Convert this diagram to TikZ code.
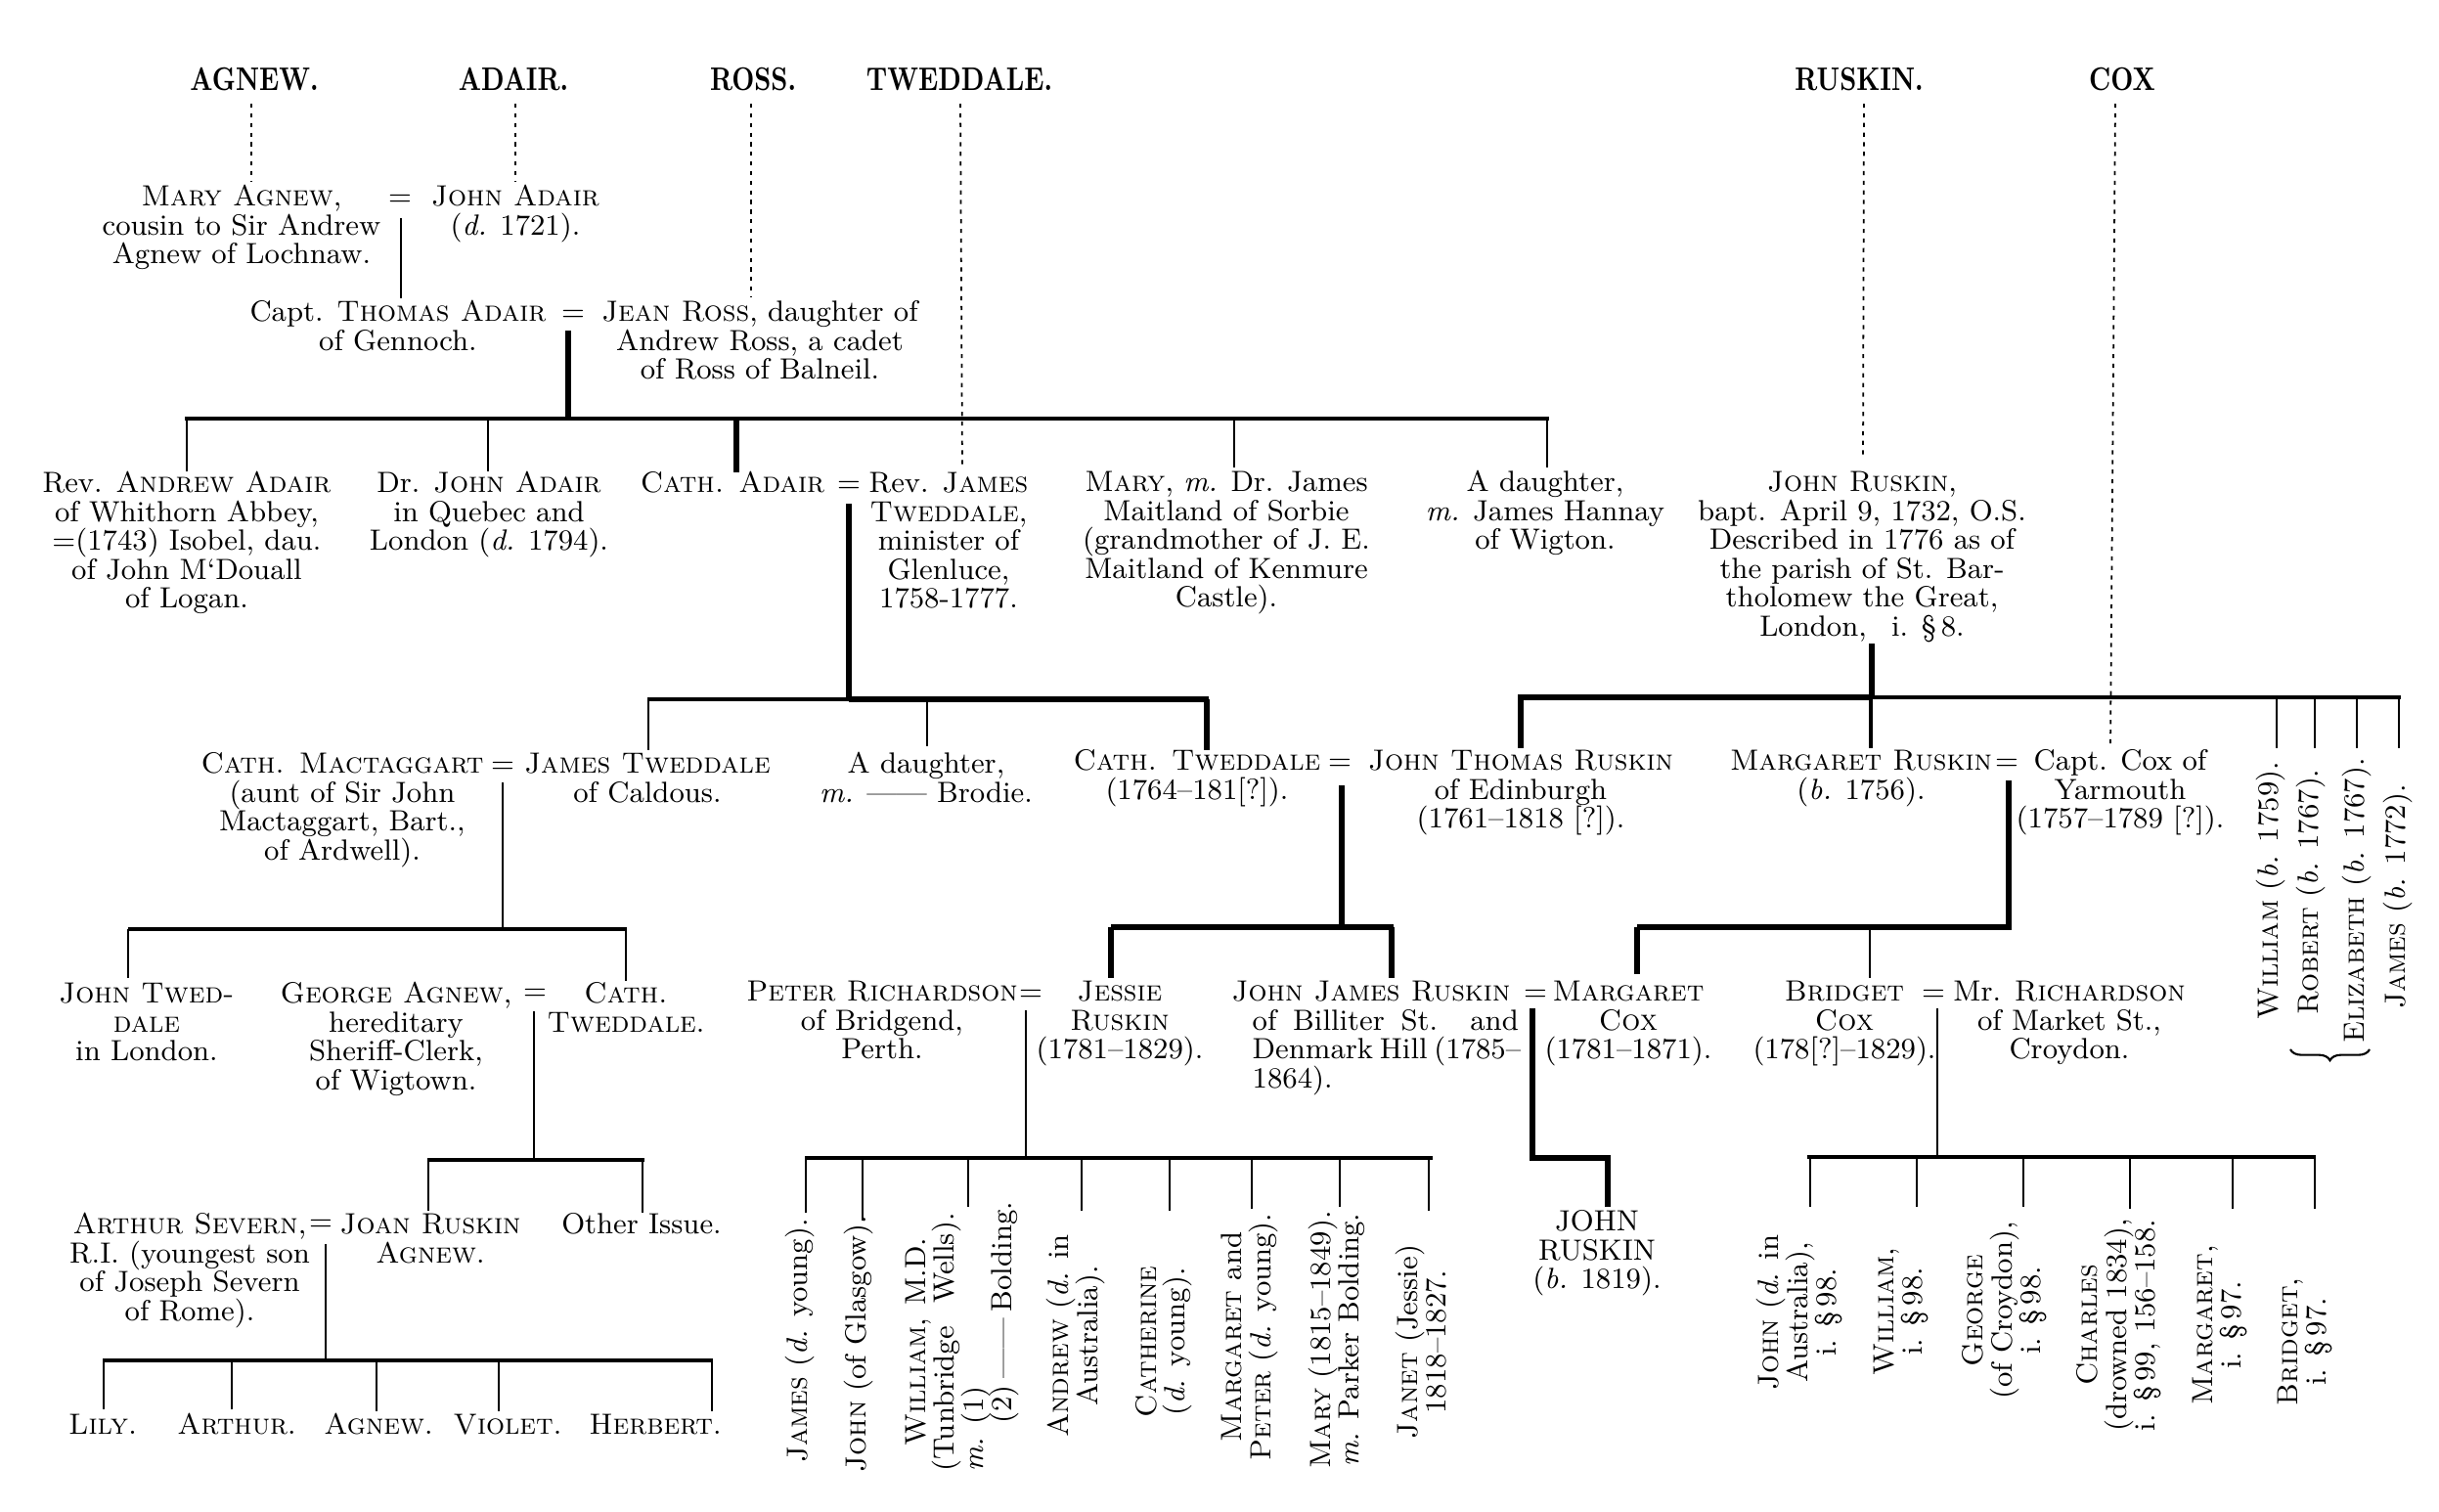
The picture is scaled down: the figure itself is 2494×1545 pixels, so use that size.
\documentclass[tikz,border=0pt]{standalone}
\usepackage{graphicx}
\usetikzlibrary{decorations.pathreplacing}
\newcommand\fstrut{\rule{0pt}{6.6pt}}
\newcommand\bodyfont{\fontsize{8.5}{8.4}\selectfont\lineskiplimit=-20pt\lineskip=0pt}
\newcommand\hdtxt[1]{\scalebox{0.8}[1]{\bfseries\fontsize{9.5}{10}\selectfont #1}}
\begin{document}
\begin{tikzpicture}[x=0.01cm,y=-0.01cm,
  tx/.style={align=center,anchor=north,inner sep=0pt,yshift=6.6pt,font=\bodyfont},
  txl/.style={align=left,anchor=north west,inner sep=0pt,yshift=6.6pt,font=\bodyfont},
  one/.style={anchor=base,inner sep=0pt,font=\bodyfont},
  hd/.style={anchor=base,inner sep=0pt},
  rot/.style={rotate=90,anchor=center,inner sep=0pt,align=center,font=\bodyfont},
  rotl/.style={rotate=90,anchor=center,inner sep=0pt,align=left,font=\bodyfont},
  lna/.style={line width=0.6pt},
  lnb/.style={line width=1.0pt},
  lnc/.style={line width=1.6pt},
  dotln/.style={line width=0.5pt,dash pattern=on 1.2pt off 1.6pt}]
\useasboundingbox (0,0) rectangle (2494,1545);

% ---------- family headers ----------
\node[hd] (hAgnew)  at (260,92)  {\hdtxt{AGNEW.}};
\node[hd] (hAdair)  at (525,92)  {\hdtxt{ADAIR.}};
\node[hd] (hRoss)   at (770,92)  {\hdtxt{ROSS.}};
\node[hd] (hTwed)   at (981,92)  {\hdtxt{TWEDDALE.}};
\node[hd] (hRuskin) at (1901,92) {\hdtxt{RUSKIN.}};
\node[hd] (hCox)    at (2170,92) {\hdtxt{COX}};

\coordinate (dA1) at (257,106);  \coordinate (dA2) at (257,186);
\coordinate (dB1) at (527,106);  \coordinate (dB2) at (527,186);
\coordinate (dC1) at (768,106);  \coordinate (dC2) at (768,304);
\coordinate (dD1) at (982,106);  \coordinate (dD2) at (984,480);
\coordinate (dE1) at (1906,106); \coordinate (dE2) at (1905,470);
\coordinate (dF1) at (2163,106); \coordinate (dF2) at (2158,762);
\draw[dotln] (dA1) -- (dA2);
\draw[dotln] (dB1) -- (dB2);
\draw[dotln] (dC1) -- (dC2);
\draw[dotln] (dD1) -- (dD2);
\draw[dotln] (dE1) -- (dE2);
\draw[dotln] (dF1) -- (dF2);

% ---------- generation 1 ----------
\node[tx] (maryA) at (247,210) {\fstrut\textsc{Mary Agnew},\\cousin to Sir Andrew\\Agnew of Lochnaw.};
\node[one] (eq1) at (409,210) {=};
\node[tx] (johnA) at (527,210) {\fstrut\textsc{John Adair}\\(\textit{d.} 1721).};
\coordinate (v1a) at (410,223); \coordinate (v1b) at (410,305);
\draw[lna] (v1a) -- (v1b);

% ---------- generation 2 ----------
\node[tx] (thomas) at (407,328) {\fstrut Capt. \textsc{Thomas Adair}\\of Gennoch.};
\node[one] (eq2) at (586,328) {=};
\node[tx] (jean) at (777,328) {\fstrut\textsc{Jean Ross}, daughter of\\Andrew Ross, a cadet\\of Ross of Balneil.};
\coordinate (v2a) at (581,338); \coordinate (v2b) at (581,428);
\draw[lnc] (v2a) -- (v2b);
\coordinate (bar1l) at (189,428); \coordinate (bar1r) at (1584,428);
\draw[line width=1.15pt] (bar1l) -- (bar1r);

% ---------- generation 3 ----------
\node[tx] (andrew) at (191,503) {\fstrut Rev. \textsc{Andrew Adair}\\of Whithorn Abbey,\\=(1743) Isobel, dau.\\of John M‘Douall\\of Logan.};
\node[tx] (drjohn) at (500,503) {\fstrut Dr. \textsc{John Adair}\\in Quebec and\\London (\textit{d.} 1794).};
\node[tx] (cathA) at (749,503) {\fstrut\textsc{Cath. Adair}};
\node[one] (eq3) at (868,503) {=};
\node[tx] (revJ) at (970,503) {\fstrut Rev. \textsc{James}\\\textsc{Tweddale},\\minister of\\Glenluce,\\1758-1777.};
\node[tx] (maryM) at (1254,502) {\fstrut\textsc{Mary}, \textit{m.} Dr. James\\Maitland of Sorbie\\(grandmother of J. E.\\Maitland of Kenmure\\Castle).};
\node[tx] (hannay) at (1580,502) {\fstrut A daughter,\\\textit{m.} James Hannay\\of Wigton.};
\node[tx] (jRuskin) at (1904,502) {\fstrut\textsc{John Ruskin},\\bapt. April 9, 1732, O.S.\\Described in 1776 as of\\the parish of St. Bar-\\tholomew the Great,\\London, \enspace i. §\,8.};

\coordinate (c1) at (191,482);  \draw[lna] (bar1l -| c1) -- (c1);
\coordinate (c2) at (499,482);  \draw[lna] (bar1l -| c2) -- (c2);
\coordinate (c3) at (753,483);  \draw[lnc] (bar1l -| c3) -- (c3);
\coordinate (c4) at (1262,478); \draw[lna] (bar1l -| c4) -- (c4);
\coordinate (c5) at (1582,478); \draw[lna] (bar1l -| c5) -- (c5);

% Adair = Tweddale descent
\coordinate (v3a) at (868,515); \coordinate (v3b) at (868,715);
\draw[lnc] (v3a) -- (v3b);
\coordinate (bar2l) at (662,715); \coordinate (bar2r) at (1236,715);
\draw[lnb] (bar2l) -- (v3b);
\draw[lnc] (v3b) -- (bar2r);
\coordinate (c6) at (663,767);  \draw[lna] (bar2l -| c6) -- (c6);
\coordinate (c7) at (948,763);  \draw[lna] (bar2l -| c7) -- (c7);
\coordinate (c8) at (1234,767); \draw[lnc] (bar2l -| c8) -- (c8);

% Ruskin descent
\coordinate (v4a) at (1914,658); \coordinate (v4b) at (1914,713);
\draw[lnc] (v4a) -- (v4b);
\coordinate (bar3l) at (1552,713); \coordinate (bar3r) at (2455,713);
\draw[lnc] (bar3l) -- (v4b);
\draw[lnb] (v4b) -- (bar3r);
\coordinate (c9)  at (1555,765); \draw[lnc] (bar3l -| c9) -- (c9);
\coordinate (c10) at (1913,765); \draw[lnb] (bar3l -| c10) -- (c10);
\coordinate (c11) at (2328,765); \draw[lna] (bar3l -| c11) -- (c11);
\coordinate (c12) at (2367,765); \draw[lna] (bar3l -| c12) -- (c12);
\coordinate (c13) at (2410,765); \draw[lna] (bar3l -| c13) -- (c13);
\coordinate (c14) at (2453,765); \draw[lna] (bar3l -| c14) -- (c14);

% ---------- generation 4 ----------
\node[tx] (mact) at (350,790) {\fstrut\textsc{Cath. Mactaggart}\\(aunt of Sir John\\Mactaggart, Bart.,\\of Ardwell).};
\node[one] (eq4) at (514,790) {=};
\node[tx] (jamesT) at (662,790) {\fstrut\textsc{James Tweddale}\\of Caldous.};
\node[tx] (brodie) at (947,790) {\fstrut A daughter,\\\textit{m.} —— Brodie.};
\node[tx] (cathT) at (1224,787) {\fstrut\textsc{Cath. Tweddale}\\(1764–181[?]).};
\node[one] (eq5) at (1370,787) {=};
\node[tx] (jtRuskin) at (1555,787) {\fstrut\textsc{John Thomas Ruskin}\\of Edinburgh\\(1761–1818 [?]).};
\node[tx] (margR) at (1903,787) {\fstrut\textsc{Margaret Ruskin}\\(\textit{b.} 1756).};
\node[one] (eq6) at (2052,787) {=};
\node[tx] (coxC) at (2168,787) {\fstrut Capt. Cox of\\Yarmouth\\(1757–1789 [?]).};

\node[rot] (sibW) at (2322,911) {\textsc{William} (\textit{b.} 1759).};
\node[rot] (sibR) at (2363,912) {\textsc{Robert} (\textit{b.} 1767).};
\node[rot] (sibE) at (2410,921) {\textsc{Elizabeth} (\textit{b.} 1767).};
\node[rot] (sibJ) at (2452,917) {\textsc{James} (\textit{b.} 1772).};
\coordinate (brR) at (2423,1073); \coordinate (brL) at (2342,1073);
\draw[line width=0.6pt,decorate,decoration={brace,amplitude=3.2pt}] (brR) -- (brL);

% descents of generation 4
\coordinate (v5a) at (514,800); \coordinate (v5b) at (514,950);
\draw[lna] (v5a) -- (v5b);
\coordinate (bar4l) at (131,950); \coordinate (bar4r) at (641,950);
\draw[lnb] (bar4l) -- (bar4r);
\coordinate (c15) at (131,1000); \draw[lna] (bar4l) -- (c15);
\coordinate (c16) at (640,1003); \draw[lna] (bar4l -| c16) -- (c16);

\coordinate (v6a) at (1372,803); \coordinate (v6b) at (1372,948);
\draw[lnc] (v6a) -- (v6b);
\coordinate (bar5l) at (1136,948); \coordinate (bar5r) at (1425,948);
\draw[lnc] (bar5l) -- (bar5r);
\coordinate (c17) at (1136,1000); \draw[lnc] (bar5l) -- (c17);
\coordinate (c18) at (1423,1000); \draw[lnc] (bar5l -| c18) -- (c18);

\coordinate (v7a) at (2054,798); \coordinate (v7b) at (2054,948);
\draw[lnc] (v7a) -- (v7b);
\coordinate (bar6l) at (1674,948); \coordinate (bar6r) at (2057,948);
\draw[lnc] (bar6l) -- (bar6r);
\coordinate (c19) at (1674,996); \draw[lnc] (bar6l) -- (c19);
\coordinate (c20) at (1912,1000); \draw[lna] (bar6l -| c20) -- (c20);

% ---------- generation 5 ----------
\node[tx] (johnTw) at (150,1025) {\fstrut\textsc{John Twed-}\\\textsc{dale}\\in London.};
\node[tx] (georgeA) at (405,1025) {\fstrut\textsc{George Agnew},\\hereditary\\Sheriff-Clerk,\\of Wigtown.};
\node[one] (eq7) at (547,1022) {=};
\node[tx] (cathT2) at (640,1025) {\fstrut\textsc{Cath.}\\\textsc{Tweddale}.};

\node[tx] (peterR) at (902,1023) {\fstrut\textsc{Peter Richardson}\\of Bridgend,\\Perth.};
\node[one] (eq8) at (1054,1023) {=};
\node[tx] (jessie) at (1145,1023) {\fstrut\textsc{Jessie}\\\textsc{Ruskin}\\(1781–1829).};
\node[txl] (jjRuskin) at (1259,1023) {\fstrut\textsc{John James Ruskin}\\\hspace*{0.21cm}\makebox[2.72cm][s]{of Billiter St. and}\\\hspace*{0.21cm}\makebox[2.72cm][s]{Denmark Hill (1785–}\\\hspace*{0.21cm}1864).};
\node[one] (eq9) at (1570,1023) {=};
\node[tx] (margC) at (1665,1023) {\fstrut\textsc{Margaret}\\\textsc{Cox}\\(1781–1871).};
\node[tx] (bridget) at (1886,1023) {\fstrut\textsc{Bridget}\\\textsc{Cox}\\(178[?]–1829).};
\node[one] (eq10) at (1977,1023) {=};
\node[tx] (richard) at (2116,1023) {\fstrut Mr. \textsc{Richardson}\\of Market St.,\\Croydon.};

% descents of generation 5
\coordinate (v8a) at (546,1034); \coordinate (v8b) at (546,1186);
\draw[lna] (v8a) -- (v8b);
\coordinate (bar7l) at (437,1186); \coordinate (bar7r) at (659,1186);
\draw[lnb] (bar7l) -- (bar7r);
\coordinate (c21) at (438,1238); \draw[lna] (bar7l -| c21) -- (c21);
\coordinate (c22) at (657,1240); \draw[lna] (bar7l -| c22) -- (c22);

\coordinate (v9a) at (1049,1033); \coordinate (v9b) at (1049,1184);
\draw[lna] (v9a) -- (v9b);
\coordinate (bar8l) at (823,1184); \coordinate (bar8r) at (1465,1184);
\draw[lnb] (bar8l) -- (bar8r);
\coordinate (r1) at (824,1240);  \draw[lna] (bar8l -| r1) -- (r1);
\coordinate (r2) at (882,1248);  \draw[lna] (bar8l -| r2) -- (r2);
\coordinate (r3) at (990,1234);  \draw[lna] (bar8l -| r3) -- (r3);
\coordinate (r4) at (1106,1238); \draw[lna] (bar8l -| r4) -- (r4);
\coordinate (r5) at (1196,1238); \draw[lna] (bar8l -| r5) -- (r5);
\coordinate (r6) at (1280,1236); \draw[lna] (bar8l -| r6) -- (r6);
\coordinate (r7) at (1370,1234); \draw[lna] (bar8l -| r7) -- (r7);
\coordinate (r8) at (1461,1238); \draw[lna] (bar8l -| r8) -- (r8);

\coordinate (v10a) at (1567,1031); \coordinate (v10b) at (1567,1184);
\coordinate (v10c) at (1644,1184); \coordinate (v10d) at (1644,1234);
\draw[lnc] (v10a) -- (v10b) -- (v10c) -- (v10d);

\coordinate (v11a) at (1981,1031); \coordinate (v11b) at (1981,1183);
\draw[lna] (v11a) -- (v11b);
\coordinate (bar9l) at (1848,1183); \coordinate (bar9r) at (2368,1183);
\draw[lnb] (bar9l) -- (bar9r);
\coordinate (x1) at (1851,1234); \draw[lna] (bar9l -| x1) -- (x1);
\coordinate (x2) at (1960,1234); \draw[lna] (bar9l -| x2) -- (x2);
\coordinate (x3) at (2069,1234); \draw[lna] (bar9l -| x3) -- (x3);
\coordinate (x4) at (2178,1236); \draw[lna] (bar9l -| x4) -- (x4);
\coordinate (x5) at (2283,1236); \draw[lna] (bar9l -| x5) -- (x5);
\coordinate (x6) at (2367,1236); \draw[lna] (bar9l -| x6) -- (x6);

% ---------- generation 6 ----------
\node[tx] (severn) at (194,1261) {\fstrut\textsc{Arthur Severn},\\R.I. (youngest son\\of Joseph Severn\\of Rome).};
\node[one] (eq11) at (328,1258) {=};
\node[tx] (joan) at (440,1261) {\fstrut\textsc{Joan Ruskin}\\\textsc{Agnew}.};
\node[tx] (other) at (656,1261) {\fstrut Other Issue.};

\node[rot] (rch1) at (818,1371) {\textsc{James} (\textit{d.} young).};
\node[rot] (rch2) at (878,1374) {\textsc{John} (of Glasgow).};
\node[rotl] (rch3) at (984,1372) {\hspace*{0.26cm}\makebox[2.13cm][s]{\textsc{William}, M.D.}\\\makebox[2.64cm][s]{(Tunbridge Wells).}\\\textit{m.} (1)\\\hspace*{0.49cm}\makebox[2.16cm][s]{(2) —— Bolding.}};
\node[rot] (rch4) at (1100,1366) {\textsc{Andrew} (\textit{d.} in\\Australia).};
\node[rot] (rch5) at (1190,1372) {\textsc{Catherine}\\(\textit{d.} young).};
\node[rot] (rch6) at (1278,1367) {\textsc{Margaret} and\\\textsc{Peter} (\textit{d.} young).};
\node[rot] (rch7) at (1367,1370) {\textsc{Mary} (1815–1849).\\\textit{m.} Parker Bolding.};
\node[rot] (rch8) at (1453,1372) {\textsc{Janet} (Jessie)\\1818–1827.};

\node[tx] (johnR) at (1633,1258) {\fstrut JOHN\\RUSKIN\\(\textit{b.} 1819).};

\node[rot] (cch1) at (1840,1342) {\textsc{John} (\textit{d.} in\\Australia),\\i. §\,98.};
\node[rot] (cch2) at (1944,1341) {\textsc{William},\\i. §\,98.};
\node[rot] (cch3) at (2050,1340) {\textsc{George}\\(of Croydon),\\i. §\,98.};
\node[rot] (cch4) at (2167,1355) {\textsc{Charles}\\(drowned 1834),\\i. §\,99, 156–158.};
\node[rot] (cch5) at (2270,1355) {\textsc{Margaret},\\i. §\,97.};
\node[rot] (cch6) at (2357,1372) {\textsc{Bridget},\\i. §\,97.};

% Severn descent
\coordinate (v12a) at (333,1272); \coordinate (v12b) at (333,1391);
\draw[lna] (v12a) -- (v12b);
\coordinate (bar10l) at (105,1391); \coordinate (bar10r) at (729,1391);
\draw[lnb] (bar10l) -- (bar10r);
\coordinate (s1) at (106,1441); \draw[lna] (bar10l -| s1) -- (s1);
\coordinate (s2) at (237,1441); \draw[lna] (bar10l -| s2) -- (s2);
\coordinate (s3) at (385,1443); \draw[lna] (bar10l -| s3) -- (s3);
\coordinate (s4) at (510,1443); \draw[lna] (bar10l -| s4) -- (s4);
\coordinate (s5) at (728,1443); \draw[lna] (bar10l -| s5) -- (s5);

% ---------- generation 7 ----------
\node[one] (lily)    at (105,1466) {\textsc{Lily}.};
\node[one] (arthur)  at (242,1466) {\textsc{Arthur}.};
\node[one] (agnewc)  at (387,1466) {\textsc{Agnew}.};
\node[one] (violet)  at (519,1466) {\textsc{Violet}.};
\node[one] (herbert) at (670,1466) {\textsc{Herbert}.};
\end{tikzpicture}
\end{document}
